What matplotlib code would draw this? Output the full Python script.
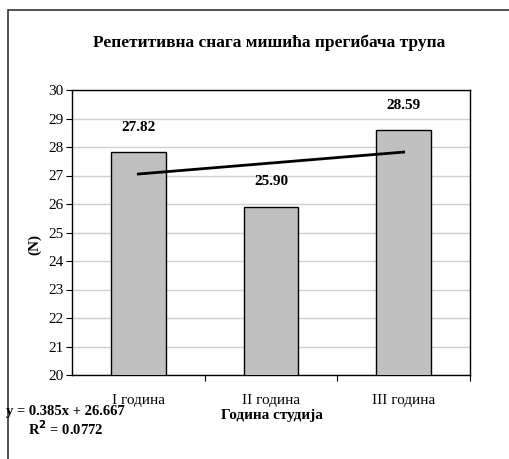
import numpy as np
import matplotlib.pyplot as plt
from matplotlib.patches import Rectangle

# data
categories = ['I година', 'II година', 'III година']
values = [27.82, 25.90, 28.59]
labels = ['27.82', '25.90', '28.59']
slope = 0.385
intercept = 26.667
r2 = 0.0772

plt.rcParams['font.family'] = ['Liberation Serif', 'DejaVu Serif']

fig = plt.figure(figsize=(5.09, 4.59), dpi=100)
ax = fig.add_axes([72/509, 1-375/459, (470-72)/509, (375-90)/459])

x = np.arange(1, len(values) + 1)
ax.bar(x, values, width=0.41, color='#c0c0c0', edgecolor='black', linewidth=1, zorder=3)

# linear trend line
trend = slope * x + intercept
ax.plot(x, trend, color='black', linewidth=2, zorder=4)

for xi, v, lab in zip(x, values, labels):
    ax.annotate(lab, (xi, v), xytext=(0, 18), textcoords='offset points',
                ha='center', va='center', fontsize=11, fontweight='bold')

ax.set_xlim(0.5, 3.5)
ax.set_ylim(20, 30)
ax.set_yticks(range(20, 31))
ax.yaxis.grid(True, color='#d0d0d0', linewidth=1, zorder=0)
ax.set_xticks([1.5, 2.5, 3.5], minor=False)
ax.set_xticklabels([])
ax.set_xticks(x, minor=True)
ax.set_xticklabels(categories, minor=True)
ax.tick_params(axis='x', which='minor', length=0, pad=14, labelsize=11)
ax.tick_params(axis='x', which='major', length=4, direction='out')
ax.tick_params(axis='y', length=4, direction='out', labelsize=11, pad=2)
for s in ax.spines.values():
    s.set_linewidth(1)
    s.set_color('black')

fig.text(35/509, 1-245/459, '(N)', rotation=90, ha='center', va='center',
         fontsize=11, fontweight='bold')
fig.text(272/509, 1-415/459, 'Година студија', ha='center', va='center',
         fontsize=11, fontweight='bold')
fig.suptitle('Репетитивна снага мишића прегибача трупа', x=269/509, y=1-43/459,
             ha='center', va='center', fontsize=12.5, fontweight='bold')

fig.text(6/509, 1-412/459, 'y = %.3fx + %.3f' % (slope, intercept), ha='left', va='center',
         fontsize=10.5, fontweight='bold')
fig.text(28/509, 1-429/459, r'R$^\mathbf{2}$ = %.4f' % r2, ha='left', va='center',
         fontsize=10.5, fontweight='bold')

fig.patches.append(Rectangle((8/509, -0.05), 1.1, 1.05 - 10/459,
                             transform=fig.transFigure, fill=False,
                             edgecolor='#333333', linewidth=1.2))

plt.savefig('out.png', dpi=100)
